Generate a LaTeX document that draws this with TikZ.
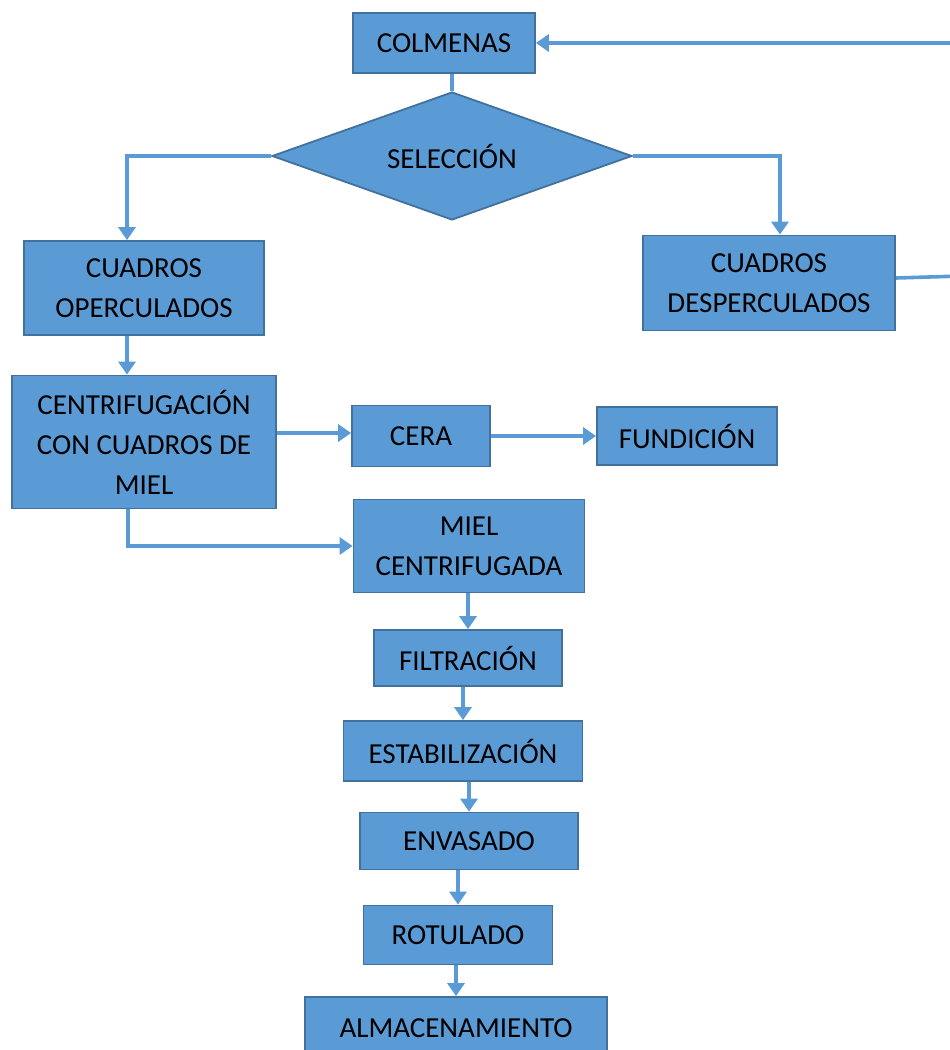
\documentclass[tikz,border=0pt]{standalone}
\usepackage{fontspec}
\setmainfont{Carlito}
\usepackage{tikz}
\usetikzlibrary{arrows.meta,shapes.geometric}
\definecolor{boxfill}{HTML}{5B9BD5}
\definecolor{boxline}{HTML}{41719C}
\begin{document}
\begin{tikzpicture}[
  box/.style={draw=boxline,fill=boxfill,line width=1.8bp,inner sep=0pt,align=center,
    font=\fontsize{29bp}{40bp}\selectfont},
  flow/.style={draw=boxfill,line width=3.6bp,-{Triangle[length=13bp,width=17bp]}},
  link/.style={draw=boxfill,line width=3.6bp}]
\useasboundingbox (0bp,0bp) rectangle (950bp,-1050bp);

\node (Colm) at (444bp,-43bp)[box,minimum width=182bp,minimum height=60bp] {COLMENAS};
\node (Sel) at (452bp,-156bp)[box,diamond,aspect=2.8,minimum width=360bp,minimum height=128bp] {SELECCIÓN};
\node (COp) at (144bp,-288bp)[box,minimum width=240bp,minimum height=94bp] {CUADROS\\OPERCULADOS};
\node (CDes) at (769bp,-283bp)[box,minimum width=252bp,minimum height=95bp] {CUADROS\\DESPERCULADOS};
\node (Cent) at (144bp,-442bp)[box,minimum width=264bp,minimum height=133bp] {CENTRIFUGACIÓN\\CON CUADROS DE\\MIEL};
\node (Cera) at (421bp,-436bp)[box,minimum width=138bp,minimum height=61bp] {CERA};
\node (Fund) at (687bp,-436bp)[box,minimum width=180bp,minimum height=58bp] {FUNDICIÓN};
\node (Miel) at (469bp,-546bp)[box,minimum width=231bp,minimum height=93bp] {MIEL\\CENTRIFUGADA};
\node (Filt) at (468bp,-658bp)[box,minimum width=188bp,minimum height=56bp] {FILTRACIÓN};
\node (Estab) at (463bp,-751bp)[box,minimum width=239bp,minimum height=60bp] {ESTABILIZACIÓN};
\node (Env) at (469bp,-841bp)[box,minimum width=218bp,minimum height=57bp] {\raisebox{-3bp}{ENVASADO}};
\node (Rot) at (458bp,-935bp)[box,minimum width=189bp,minimum height=59bp] {ROTULADO};
\node (Alm) at (456bp,-1030bp)[box,minimum width=302bp,minimum height=66bp,text depth=0pt] {\raisebox{3bp}{ALMACENAMIENTO}};
\coordinate (Ret) at (962bp,-276bp);

\draw [link] ([xshift=8bp]Colm.south) to (Sel.north);
\draw [flow] (Sel.west) -| ([xshift=-17bp]COp.north);
\draw [flow] (Sel.east) -| ([xshift=11bp]CDes.north);
\draw [link] ([yshift=5bp]CDes.east) to (Ret);
\draw [flow] (Ret) |- (Colm.east);
\draw [flow] ([xshift=-17bp]COp.south) to ([xshift=-17bp]Cent.north);
\draw [flow] ([yshift=9bp]Cent.east) to ([yshift=9bp]Cent.east -| Cera.west);
\draw [flow] (Cera.east) to (Fund.west);
\draw [flow] ([xshift=-16bp]Cent.south) |- (Miel.west);
\foreach \a/\b in {Miel/Filt,Filt/Estab,Estab/Env,Env/Rot,Rot/Alm}
  \draw [flow] (\b.north |- \a.south) to (\b.north);
\end{tikzpicture}
\end{document}
